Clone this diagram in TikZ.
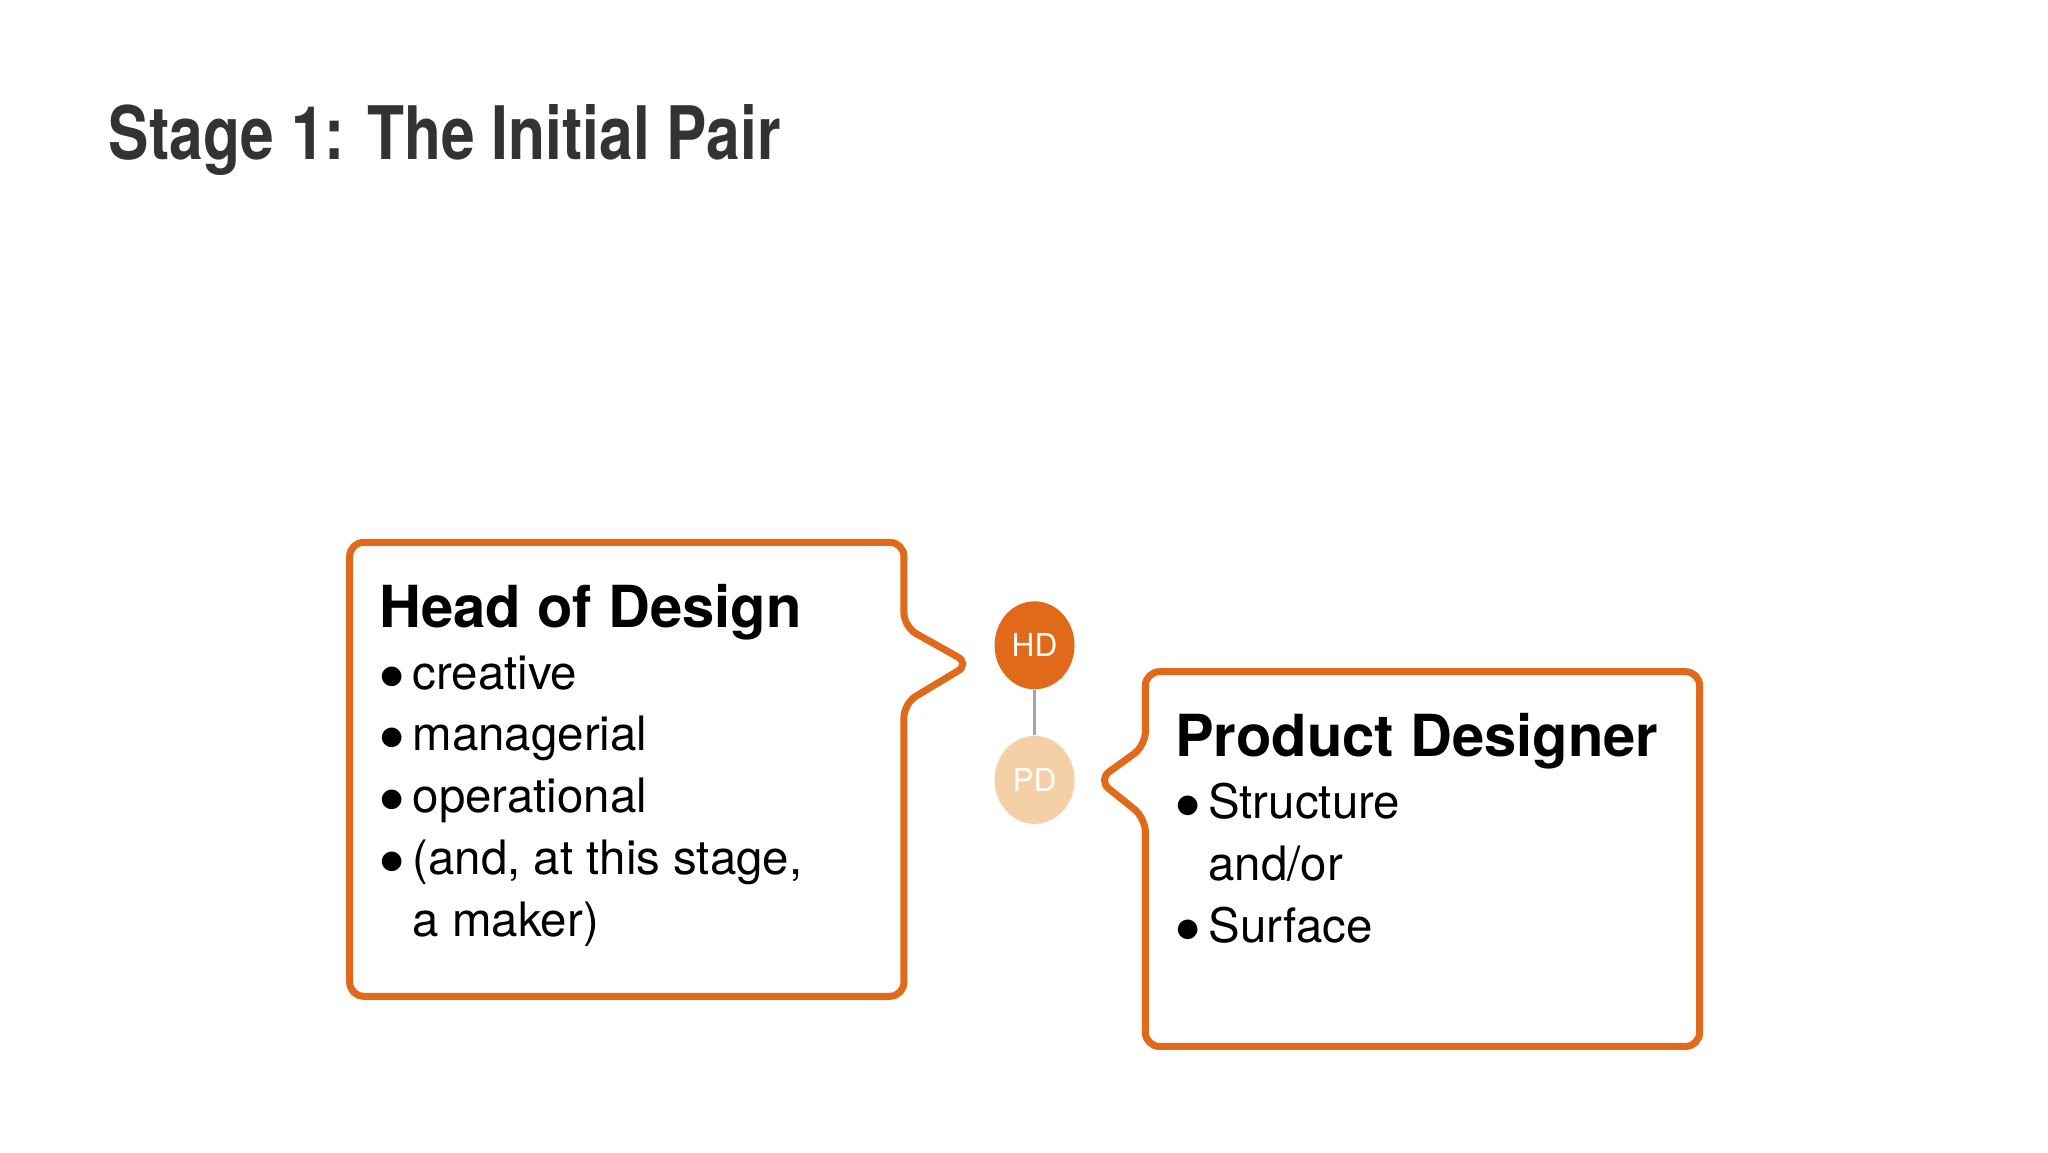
\documentclass[tikz,border=0pt]{standalone}
\usepackage{fontspec}
\setmainfont{TeX Gyre Heros}
\usetikzlibrary{positioning}
\definecolor{hdorange}{HTML}{E06A1A}
\definecolor{pdpeach}{HTML}{F5CFA5}
\definecolor{titlegray}{HTML}{333333}
\tikzset{
    callout/.style={draw=hdorange, line width=2pt, rounded corners=4pt, fill=white},
    person/.style={ellipse, minimum width=0.8cm, minimum height=0.88cm, inner sep=0pt,
        text=white, font=\fontsize{9}{9}\selectfont},
    boxtext/.style={anchor=north west, inner sep=0pt, align=left,
        font=\fontsize{13.5}{17.6}\selectfont},
}
\usetikzlibrary{shapes.geometric}
\begin{document}
\begin{tikzpicture}[x=0.0132cm, y=-0.0132cm]
\useasboundingbox (0,0) rectangle (1552,873);

\node[anchor=base west, inner sep=0pt, text=titlegray,
    font=\fontsize{21}{21}\selectfont\bfseries\addfontfeature{FakeStretch=0.82}]
    (title) at (82,121) {Stage 1: The Initial Pair};

% head of design callout
\draw[callout] (265,411) -- (685,411) -- (685,475) -- (735,503) -- (685,533)
    -- (685,755) -- (265,755) -- cycle;
\node[boxtext] (hdtext) at (287,442) {%
    {\fontsize{16.5}{17.6}\selectfont\bfseries Head of Design}\\
    $\bullet$\,creative\\
    $\bullet$\,managerial\\
    $\bullet$\,operational\\
    $\bullet$\,(and, at this stage,\\
    \hphantom{$\bullet$\,}a maker)};

% product designer callout
\draw[callout] (868,509) -- (1288,509) -- (1288,793) -- (868,793) -- (868,620)
    -- (832,591) -- (868,565) -- cycle;
\node[boxtext] (pdtext) at (890,540) {%
    {\fontsize{16.5}{17.6}\selectfont\bfseries Product Designer}\\
    $\bullet$\,Structure\\
    \hphantom{$\bullet$\,}and/or\\
    $\bullet$\,Surface};

% the pair
\node[person, fill=hdorange] (hd) at (784,489) {HD};
\node[person, fill=pdpeach] (pd) at (784,591) {PD};
\draw[gray!70, line width=1pt] (hd) -- (pd);

\end{tikzpicture}
\end{document}
